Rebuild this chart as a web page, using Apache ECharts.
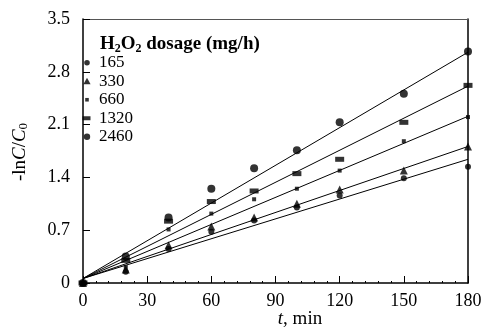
<!DOCTYPE html>
<html>
<head>
<meta charset="utf-8">
<script src="https://cdn.jsdelivr.net/npm/echarts@6/dist/echarts.min.js"></script>
<style>
html,body{margin:0;padding:0;background:#fff;}
#chart{width:481px;height:329px;}
</style>
</head>
<body>
<div id="chart"></div>
<script>
// ---- data ----
var times = [0, 20, 40, 60, 80, 100, 120, 150, 180];
var seriesNames = ['165', '330', '660', '1320', '2460'];
var d165  = [0, 0.15, 0.45, 0.68, 0.83, 1.00, 1.16, 1.39, 1.54];
var d330  = [0, 0.18, 0.50, 0.75, 0.87, 1.05, 1.24, 1.49, 1.81];
var d660  = [0, 0.21, 0.71, 0.92, 1.11, 1.25, 1.49, 1.88, 2.20];
var d1320 = [0, 0.30, 0.82, 1.08, 1.22, 1.45, 1.64, 2.13, 2.62];
var d2460 = [0, 0.35, 0.87, 1.25, 1.52, 1.76, 2.13, 2.51, 3.07];
var fitStart = [0.06, 0.06, 0.06, 0.06, 0.06];
var fitEnd   = [1.64, 1.81, 2.21, 2.61, 3.06];
var fitT = [0, 180];
var xTicks = [0, 30, 60, 90, 120, 150, 180];
var yTicks = [0, 0.7, 1.4, 2.1, 2.8, 3.5];

// ---- build ----
var allData = [d165, d330, d660, d1320, d2460];
var symbols = ['circle', 'triangle', 'rect', 'path://M0,0H10V5H0Z', 'circle'];
var sizes = [6, 8, 4, [9, 5], 8];
// legend icons: shapes padded inside a 10x10 box so they keep their relative sizes
var legendIcons = [
  'path://M0,0M10,10M2.2,5a2.8,2.8 0 1,0 5.6,0a2.8,2.8 0 1,0 -5.6,0z',
  'path://M0,0M10,10M5,1.5L8.6,8H1.4Z',
  'path://M0,0M10,10M3.2,3.2h3.6v3.6h-3.6z',
  'path://M0,0M10,10M0.5,3h8v4h-8z',
  'path://M0,0M10,10M1.8,5a3.2,3.2 0 1,0 6.4,0a3.2,3.2 0 1,0 -6.4,0z'
];
var font = '"Liberation Serif", "DejaVu Serif", serif';

function pairs(xs, ys) { return xs.map(function (x, i) { return [x, ys[i]]; }); }

var series = [];
allData.forEach(function (arr, i) {
  series.push({
    name: seriesNames[i], type: 'scatter', data: pairs(times, arr),
    symbol: symbols[i], symbolSize: sizes[i],
    itemStyle: { color: '#000' }, z: 3
  });
});
fitEnd.forEach(function (e, i) {
  series.push({
    name: 'fit' + seriesNames[i], type: 'line', data: pairs(fitT, [fitStart[i], e]),
    showSymbol: false, symbol: 'none',
    lineStyle: { color: '#000', width: 1 }, z: 2, silent: true
  });
});

var chart = echarts.init(document.getElementById('chart'), null, { renderer: 'canvas' });
chart.setOption({
  animation: false,
  backgroundColor: '#fff',
  textStyle: { fontFamily: font, color: '#000' },
  grid: { left: 83, right: 13, top: 19, bottom: 46, outerBoundsMode: 'none', containLabel: false },
  graphic: [
    {
      type: 'text', left: 100, top: 35, z: 10,
      style: {
        text: 'H{sub|2}O{sub|2} dosage (mg/h)',
        font: 'bold 19px ' + font, fill: '#000',
        rich: { sub: { font: 'bold 12px ' + font, fill: '#000', verticalAlign: 'bottom', padding: [9, 0, 0, 0] } }
      }
    },
    {
      type: 'text', x: 20, y: 152, rotation: Math.PI / 2, z: 10,
      style: {
        text: '-ln{it|C}/{it|C}{sub|0}', align: 'center', verticalAlign: 'middle',
        font: '19px ' + font, fill: '#000',
        rich: {
          it: { font: 'italic 19px ' + font, fill: '#000' },
          sub: { font: '13px ' + font, fill: '#000', verticalAlign: 'bottom', padding: [8, 0, 0, 0] }
        }
      }
    },
    {
      type: 'text', x: 300, y: 319, z: 10,
      style: {
        text: '{it|t}, min', align: 'center', verticalAlign: 'middle',
        font: '19px ' + font, fill: '#000',
        rich: { it: { font: 'italic 19px ' + font, fill: '#000' } }
      }
    }
  ],
  legend: {
    orient: 'vertical', left: 82, top: 54, padding: 0,
    itemWidth: 10, itemHeight: 10, itemGap: 1,
    textStyle: { fontFamily: font, fontSize: 17, lineHeight: 17.5, color: '#000', padding: [0, 0, 0, 2] },
    itemStyle: { color: '#000' },
    data: seriesNames.map(function (n, i) { return { name: n, icon: legendIcons[i] }; })
  },
  xAxis: [{
    type: 'value', min: xTicks[0], max: xTicks[xTicks.length - 1], interval: 30,
    axisLine: { lineStyle: { color: '#000', width: 1.5 } },
    axisTick: { inside: true, length: 7, lineStyle: { color: '#000' } },
    minorTick: { show: true, splitNumber: 5, length: 2, lineStyle: { color: '#000' } },
    axisLabel: { fontFamily: font, fontSize: 18, color: '#000', margin: 9 },
    splitLine: { show: false }
  }, {
    type: 'value', position: 'top', min: 0, max: 180, interval: 30,
    axisLine: { show: true, onZero: false, lineStyle: { color: '#555', width: 1 } },
    axisTick: { show: false }, axisLabel: { show: false }, splitLine: { show: false }
  }],
  yAxis: [{
    type: 'value', min: yTicks[0], max: yTicks[yTicks.length - 1], interval: 0.7,
    axisLine: { lineStyle: { color: '#000', width: 1.5 } },
    axisTick: { inside: true, length: 7, lineStyle: { color: '#000' } },
    axisLabel: {
      fontFamily: font, fontSize: 18, color: '#000', margin: 13,
      formatter: function (v) { return v === 0 ? '0' : v.toFixed(1); }
    },
    splitLine: { show: false }
  }, {
    type: 'value', position: 'right', min: 0, max: 3.5, interval: 0.7,
    axisLine: { show: true, onZero: false, lineStyle: { color: '#000', width: 1.5 } },
    axisTick: { show: false }, axisLabel: { show: false }, splitLine: { show: false }
  }],
  series: series
});
</script>
</body>
</html>
